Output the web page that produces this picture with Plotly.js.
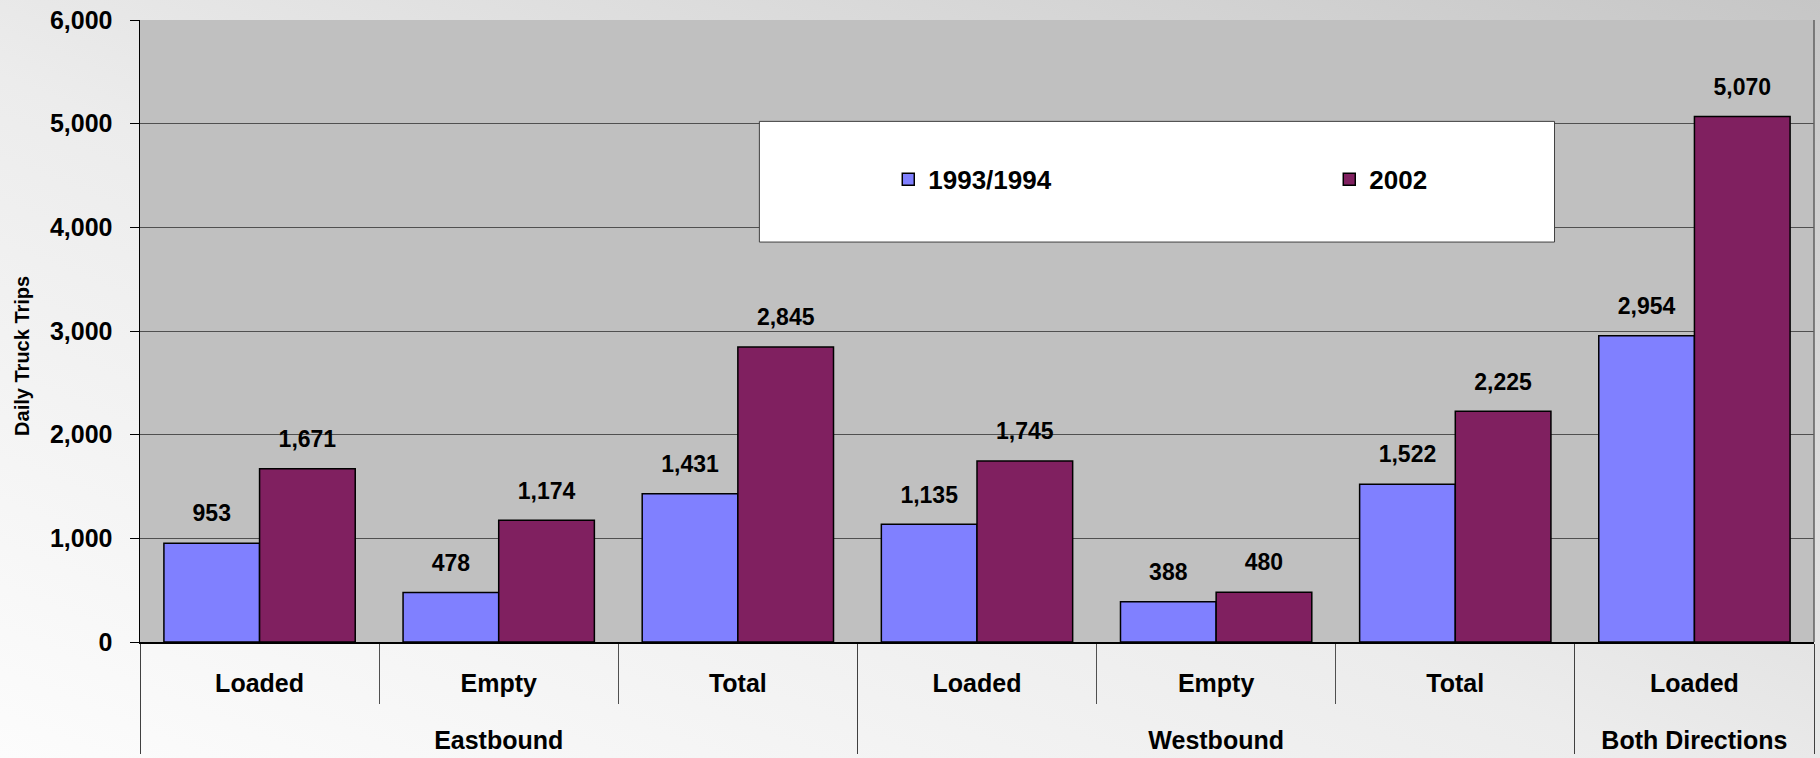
<!DOCTYPE html>
<html>
<head>
<meta charset="utf-8">
<script src="https://cdn.plot.ly/plotly-3.0.1.min.js"></script>
<style>
  html, body { margin: 0; padding: 0; }
  body {
    width: 1820px; height: 758px; overflow: hidden;
    background: linear-gradient(to top right, #fcfcfc 0%, #ececec 45%, #d8d8d8 75%, #c6c6c6 100%);
  }
  #chart { width: 1820px; height: 758px; }
</style>
</head>
<body>
<div id="chart"></div>
<script>
// ---- data ----
const groups = ['Eastbound', 'Eastbound', 'Eastbound', 'Westbound', 'Westbound', 'Westbound', 'Both Directions'];
const subCategories = ['Loaded', 'Empty', 'Total', 'Loaded', 'Empty', 'Total', 'Loaded'];
const seriesNames = ['1993/1994', '2002'];
const values1993 = [953, 478, 1431, 1135, 388, 1522, 2954];
const values2002 = [1671, 1174, 2845, 1745, 480, 2225, 5070];
const yTickVals = [0, 1000, 2000, 3000, 4000, 5000, 6000];
const yTitle = 'Daily Truck Trips';

// ---- styling ----
const FONT = '"Liberation Sans", Arial, sans-serif';
const colors = ['#8080ff', '#802060'];
// an empty second line under each sub-category label leaves room for the group row
const subLabels = subCategories.map(s => s + '<br><span style="font-size:65px">\u00a0</span>');
const xCats = [groups, subLabels];
const seriesValues = [values1993, values2002];

const traces = [];
seriesValues.forEach((vals, i) => {
  traces.push({
    type: 'bar',
    name: seriesNames[i],
    x: xCats,
    y: vals,
    offsetgroup: String(i + 1),
    marker: { color: colors[i], line: { color: '#000000', width: 1.5 } },
    hoverinfo: 'y+name'
  });
});
seriesValues.forEach((vals, i) => {
  traces.push({
    type: 'scatter',
    mode: 'markers+text',
    x: xCats,
    y: vals,
    offsetgroup: String(i + 1),
    showlegend: false,
    hoverinfo: 'skip',
    marker: { size: 24, opacity: 0 },
    texttemplate: '%{y:,}',
    textposition: 'top center',
    textfont: { family: FONT, size: 23, color: '#000000', weight: 'bold' },
    cliponaxis: false
  });
});

const layout = {
  width: 1820,
  height: 758,
  margin: { l: 140, r: 6, t: 20, b: 116, pad: 0, autoexpand: false },
  paper_bgcolor: 'rgba(0,0,0,0)',
  plot_bgcolor: '#c0c0c0',
  barmode: 'group',
  bargap: 0.2,
  bargroupgap: 0,
  scattermode: 'group',
  scattergap: 0.2,
  font: { family: FONT, color: '#000000', weight: 'bold' },
  showlegend: true,
  legend: {
    orientation: 'h',
    x: 0.447, xanchor: 'left',
    y: 0.744, yanchor: 'middle',
    bgcolor: 'rgba(0,0,0,0)',
    borderwidth: 0,
    entrywidth: 396,
    entrywidthmode: 'pixels',
    font: { family: FONT, size: 26, color: '#000000', weight: 'bold' }
  },
  xaxis: {
    type: 'multicategory',
    showgrid: false,
    showline: true,
    linecolor: '#000000',
    linewidth: 1.5,
    ticks: 'outside',
    ticklen: 60,
    tickcolor: '#505050',
    tickwidth: 1,
    ticklabelstandoff: 18,
    showdividers: true,
    dividercolor: '#404040',
    dividerwidth: 1,
    tickfont: { family: FONT, size: 25, color: '#000000', weight: 'bold' },
    fixedrange: true
  },
  yaxis: {
    range: [0, 6000],
    tickvals: yTickVals,
    tickformat: ',d',
    showgrid: true,
    gridcolor: '#505050',
    gridwidth: 1,
    zeroline: false,
    showline: true,
    linecolor: '#000000',
    linewidth: 1.5,
    ticks: 'outside',
    ticklen: 9,
    tickcolor: '#000000',
    ticklabelstandoff: 12,
    tickfont: { family: FONT, size: 25, color: '#000000', weight: 'bold' },
    fixedrange: true
  },
  shapes: [
    { type: 'rect', xref: 'paper', yref: 'paper', x0: 0.370, x1: 0.845, y0: 0.643, y1: 0.837,
      fillcolor: '#ffffff', line: { color: '#404040', width: 1 }, layer: 'above' },
    { type: 'line', xref: 'paper', yref: 'paper', x0: 1, x1: 1, y0: 0, y1: 1,
      line: { color: '#606060', width: 1.5 }, layer: 'above' }
  ],
  annotations: [
    { text: yTitle, xref: 'paper', yref: 'paper', x: 0, y: 0.46, xshift: -118,
      xanchor: 'center', yanchor: 'middle', textangle: -90, showarrow: false,
      font: { family: FONT, size: 20, color: '#000000', weight: 'bold' } }
  ]
};

Plotly.newPlot('chart', traces, layout, { displayModeBar: false, staticPlot: true });
</script>
</body>
</html>
